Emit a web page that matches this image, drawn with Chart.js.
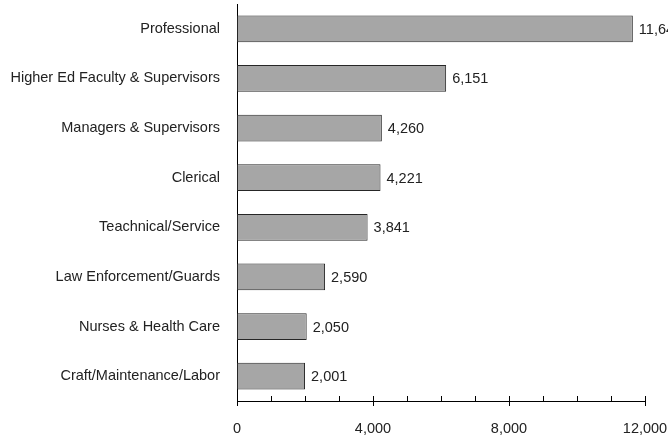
<!DOCTYPE html>
<html>
<head>
<meta charset="utf-8">
<script src="https://cdn.jsdelivr.net/npm/chart.js@4/dist/chart.umd.min.js"></script>
<style>
html,body{margin:0;padding:0;background:#fff;}
#wrap{width:668px;height:440px;position:relative;}
</style>
</head>
<body>
<div id="wrap"><canvas id="c" width="668" height="440"></canvas></div>
<script>
const categories = [
  "Professional",
  "Higher Ed Faculty & Supervisors",
  "Managers & Supervisors",
  "Clerical",
  "Teachnical/Service",
  "Law Enforcement/Guards",
  "Nurses & Health Care",
  "Craft/Maintenance/Labor"
];
const employees = [11642, 6151, 4260, 4221, 3841, 2590, 2050, 2001];
const xTicks = [0, 4000, 8000, 12000];
const minorStep = 1000;

const FONT = "'Liberation Sans', Arial, sans-serif";
const FSIZE = 14.5;
const TEXT = "#222";

const fmt = v => v.toLocaleString('en-US');

function noPad(scale) {
  scale.paddingTop = 0; scale.paddingBottom = 0;
  scale.paddingLeft = 0; scale.paddingRight = 0;
}

const overlay = {
  id: 'overlay',
  afterDatasetsDraw(chart) {
    const ctx = chart.ctx;
    const xs = chart.scales.x;
    const meta = chart.getDatasetMeta(0);
    ctx.save();
    ctx.font = FSIZE + "px " + FONT;
    ctx.fillStyle = TEXT;
    ctx.textAlign = 'left';
    ctx.textBaseline = 'middle';
    meta.data.forEach((bar, i) => {
      ctx.fillText(fmt(employees[i]), bar.x + 6, bar.y + 1);
    });
    const y = xs.top;
    ctx.strokeStyle = '#000';
    ctx.lineWidth = 1;
    for (let v = xTicks[0]; v <= xTicks[xTicks.length - 1]; v += minorStep) {
      const px = Math.round(xs.getPixelForValue(v)) + 0.5;
      const major = xTicks.includes(v);
      ctx.beginPath();
      ctx.moveTo(px, y - 5);
      ctx.lineTo(px, major ? y + 5 : y);
      ctx.stroke();
    }
    ctx.restore();
  }
};

new Chart(document.getElementById('c'), {
  type: 'bar',
  data: {
    labels: categories,
    datasets: [{
      data: employees,
      backgroundColor: '#a6a6a6',
      borderColor: '#262626',
      borderWidth: 1,
      borderSkipped: false,
      categoryPercentage: 1,
      barPercentage: 0.54
    }]
  },
  options: {
    indexAxis: 'y',
    responsive: false,
    animation: false,
    devicePixelRatio: 1,
    layout: { autoPadding: false, padding: { top: 4, right: 23, left: 0, bottom: 0 } },
    plugins: { legend: { display: false }, tooltip: { enabled: false } },
    scales: {
      x: {
        min: 0, max: 12000,
        afterBuildTicks(scale) { scale.ticks = xTicks.map(v => ({ value: v })); },
        afterFit(scale) { scale.height = 39; noPad(scale); },
        grid: { display: false, drawTicks: false },
        border: { display: true, color: '#000', width: 1 },
        ticks: {
          font: { family: FONT, size: FSIZE },
          color: TEXT,
          padding: 19,
          maxRotation: 0,
          callback: v => fmt(v)
        }
      },
      y: {
        afterFit(scale) { scale.width = 237; noPad(scale); },
        grid: { display: false, drawTicks: false },
        border: { display: true, color: '#000', width: 1 },
        ticks: {
          font: { family: FONT, size: FSIZE },
          color: TEXT,
          padding: 17
        }
      }
    }
  },
  plugins: [overlay]
});
</script>
</body>
</html>
